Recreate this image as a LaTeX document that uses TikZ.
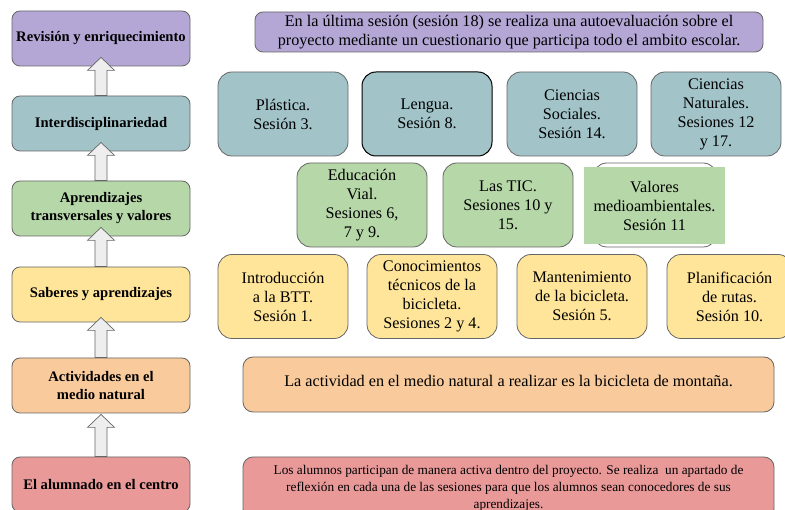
\documentclass[tikz,border=0pt]{standalone}
\usepackage{fontspec}
\setmainfont{Liberation Serif}
\usetikzlibrary{calc}
\definecolor{cpur}{HTML}{B4A7D6}
\definecolor{cteal}{HTML}{A2C4C9}
\definecolor{cgreen}{HTML}{B6D7A8}
\definecolor{cyel}{HTML}{FFE599}
\definecolor{corg}{HTML}{F9CB9C}
\definecolor{cred}{HTML}{EA9999}
\definecolor{cline}{HTML}{666666}
\definecolor{carr}{HTML}{EEEEEE}
\newcommand{\blockup}[3]{%
  \coordinate (tip) at ($(#2.south)+(0,#3)$);
  \draw[barrow] ($(#1.north)+(-6,0)$) -- ($(tip)+(-6,13)$) -- ($(tip)+(-13.5,13)$) -- (tip)
    -- ($(tip)+(13.5,13)$) -- ($(tip)+(6,13)$) -- ($(#1.north)+(6,0)$) -- cycle;}
\begin{document}
\begin{tikzpicture}[x=1pt,y=-1pt,
  lbox/.style={draw=cline, line width=0.8pt, rounded corners=8pt, inner sep=1pt, align=center,
    minimum width=178pt, minimum height=55pt, font=\fontsize{14.6}{18}\selectfont\bfseries},
  rbox/.style={draw=cline, line width=0.8pt, rounded corners=14pt, inner sep=1pt, align=center,
    minimum width=130pt, minimum height=84pt, font=\fontsize{16.2}{19}\selectfont},
  wbox/.style={draw=cline, line width=0.8pt, rounded corners=10pt, inner sep=1pt, align=center,
    minimum width=531pt, minimum height=55pt, font=\fontsize{16.2}{18.5}\selectfont},
  barrow/.style={draw=cline, line width=0.7pt, fill=carr, line join=miter}]
\useasboundingbox (0,0) rectangle (785,510);
\clip (0,0) rectangle (785,510);
\fill[white] (0,0) rectangle (785,510);

% left column
\node[lbox, fill=cpur]   (rev)   at (101,38.5)  {Revisión y enriquecimiento};
\node[lbox, fill=cteal]  (inter) at (101,123.5) {Interdisciplinariedad};
\node[lbox, fill=cgreen] (apr)   at (101,208.5) {Aprendizajes\\transversales y valores};
\node[lbox, fill=cyel]   (sab)   at (101,294.5) {Saberes y aprendizajes};
\node[lbox, fill=corg]   (act)   at (101,385.5) {Actividades en el\\medio natural};
\node[lbox, fill=cred]   (alu)   at (101,484.5) {El alumnado en el centro};

\blockup{inter}{rev}{-9}
\blockup{apr}{inter}{-9}
\blockup{sab}{apr}{-9}
\blockup{act}{sab}{-5}
\blockup{alu}{act}{1}

% top purple
\node[wbox, fill=cpur, minimum width=508pt, minimum height=40pt, rounded corners=8pt] (eval) at (509,32)
  {En la última sesión (sesión 18) se realiza una autoevaluación sobre el\\proyecto mediante un cuestionario que participa todo el ambito escolar.};

% teal row
\node[rbox, fill=cteal] (pla) at (283,114) {Plástica.\\Sesión 3.};
\node[rbox, fill=cteal, draw=black, line width=1pt] (len) at (427,114) {Lengua.\\Sesión 8.};
\node[rbox, fill=cteal] (soc) at (572,114) {Ciencias\\Sociales.\\Sesión 14.};
\node[rbox, fill=cteal] (nat) at (716,114) {Ciencias\\Naturales.\\Sesiones 12\\y 17.};

% green row
\node[rbox, fill=cgreen] (vial) at (362,205) {Educación\\Vial.\\Sesiones 6,\\7 y 9.};
\node[rbox, fill=cgreen] (tic)  at (508,205) {Las TIC.\\Sesiones 10 y\\15.};
\node[rbox, fill=white, minimum width=124pt] (valbg) at (655,205) {};
\node[fill=cgreen, minimum width=141pt, minimum height=77pt, inner sep=0pt, align=center,
  font=\fontsize{16.2}{19}\selectfont] (val) at (654.5,205.5) {Valores\\medioambientales.\\Sesión 11};

% yellow row
\node[rbox, fill=cyel] (intro) at (283,296.5) {Introducción\\a la BTT.\\Sesión 1.};
\node[rbox, fill=cyel] (cono)  at (432,296.5) {Conocimientos\\técnicos de la\\bicicleta.\\Sesiones 2 y 4.};
\node[rbox, fill=cyel] (mant)  at (582,296.5) {Mantenimiento\\de la bicicleta.\\Sesión 5.};
\node[rbox, fill=cyel, minimum width=125pt] (plan) at (729.5,296.5) {Planificación\\de rutas.\\Sesión 10.};

% orange wide
\node[wbox, fill=corg, text depth=8pt] (btt) at (508.5,384.5)
  {La actividad en el medio natural a realizar es la bicicleta de montaña.};

% red wide
\node[wbox, fill=cred, minimum height=62pt, font=\fontsize{13.3}{17}\selectfont] (part) at (508.5,488)
  {Los alumnos participan de manera activa dentro del proyecto. Se realiza\ \ un apartado de\\reflexión en cada una de las sesiones para que los alumnos sean conocedores de sus\\aprendizajes.};
\end{tikzpicture}
\end{document}
